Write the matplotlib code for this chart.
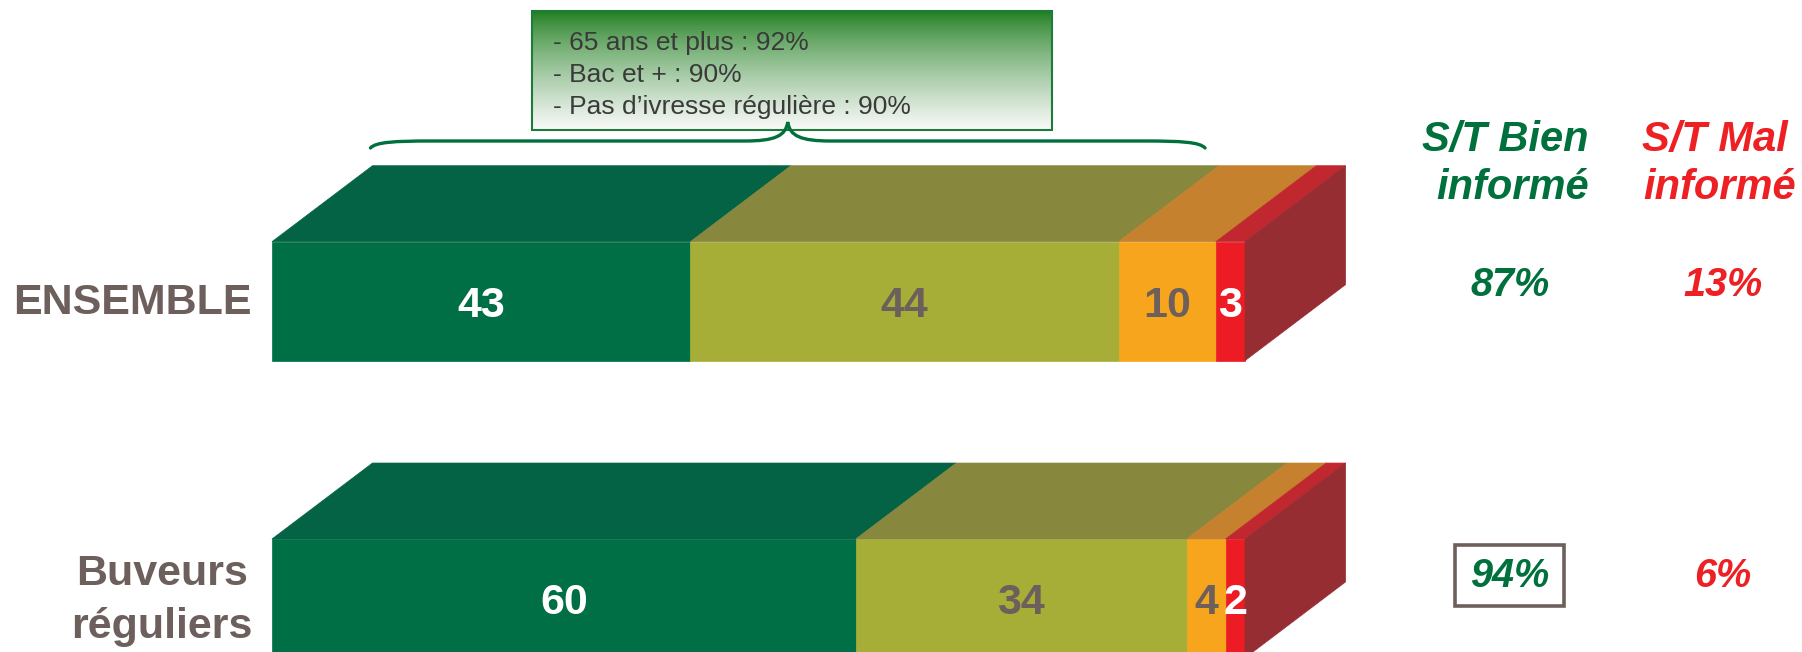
import numpy as np
import matplotlib
matplotlib.use("Agg")
import matplotlib.pyplot as plt
from matplotlib.patches import Polygon, Rectangle, PathPatch
from matplotlib.path import Path

plt.rcParams['font.family'] = ['Liberation Sans', 'DejaVu Sans']

# data
rows = ['ENSEMBLE', 'Buveurs\nréguliers']
tres_bien = [43, 60]
plutot_bien = [44, 34]
plutot_mal = [10, 4]
tres_mal = [3, 2]
st_bien = ['87%', '94%']
st_mal = ['13%', '6%']
callout = ['- 65 ans et plus : 92%', '- Bac et + : 90%',
           '- Pas d\u2019ivresse régulière : 90%']

series = [tres_bien, plutot_bien, plutot_mal, tres_mal]
front = ['#006f45', '#a7ae38', '#f7a51c', '#ed1c24']
top = ['#046344', '#87883e', '#c5812e', '#c1272f']
side = '#962d33'
num_col = ['white', '#6d5f5b', '#6d5f5b', 'white']
grey = '#6d5f5b'
green = '#00703c'
red = '#ed2024'

W, H = 1802, 652
fig = plt.figure(figsize=(W / 100, H / 100), dpi=100)

# bars, x in percent
ax = fig.add_axes([0, 0, 1, 1])
ax.set_xlim(-27.95, 157.24)
ax.set_ylim(1.180, -1.013)
ax.axis('off')

bar_h = 0.40
dx, dy = 10.33, 0.2556
ypos = np.arange(len(rows))
left = np.zeros(len(rows))
for vals, fc, tc, nc in zip(series, front, top, num_col):
    vals = np.array(vals, float)
    ax.barh(ypos, vals, left=left, height=bar_h, color=fc, edgecolor=fc, linewidth=0.5)
    for i in range(len(rows)):
        x0, x1 = left[i], left[i] + vals[i]
        yt = ypos[i] - bar_h / 2
        ax.add_patch(Polygon([(x0, yt), (x1, yt), (x1 + dx, yt - dy), (x0 + dx, yt - dy)],
                             closed=True, fc=tc, ec=tc, lw=0.5))
        ax.text((x0 + x1) / 2, ypos[i] + 0.052, str(int(vals[i])), color=nc,
                fontsize=31, fontweight='bold', ha='center', va='baseline')
    left += vals

for i in range(len(rows)):
    x1 = left[i]
    yt = ypos[i] - bar_h / 2
    yb = ypos[i] + bar_h / 2
    ax.add_patch(Polygon([(x1, yt), (x1 + dx, yt - dy), (x1 + dx, yb - dy), (x1, yb)],
                         closed=True, fc=side, ec=side, lw=0.5))

# overlay in pixels
ov = fig.add_axes([0, 0, 1, 1], zorder=5)
ov.axis('off')

# callout box with gradient
g = np.linspace(0, 1, 200)[:, None, None] ** 0.75
c0 = np.array([0x1a, 0x7c, 0x1a]) / 255
c1 = np.array([0xfa, 0xfa, 0xfa]) / 255
img = c0 + (c1 - c0) * g
img = np.repeat(img, 2, axis=1)
ov.imshow(img, extent=(532, 1052, 130, 11), aspect='auto', zorder=1)
ov.add_patch(Rectangle((532, 11), 520, 119, fill=False, ec='#1e7b3c', lw=1.5, zorder=2))
for k, line in enumerate(callout):
    ov.text(553, 50 + 32 * k, line, fontsize=19, color='#3a3a3a', ha='left',
            va='baseline', zorder=3)

# brace over the "bien" part
bien = tres_bien[0] + plutot_bien[0]
xl = ax.transData.transform((dx, 0))[0] - 2
xr = ax.transData.transform((bien + dx, 0))[0] - 14
xm = (xl + xr) / 2
verts = [(xl, 148), (xl + 5, 142), (xl + 25, 141), (xl + 60, 141),
         (xm - 43, 141),
         (xm - 13, 141), (xm - 2, 136), (xm, 122),
         (xm + 2, 136), (xm + 13, 141), (xm + 43, 141),
         (xr - 60, 141),
         (xr - 25, 141), (xr - 5, 142), (xr, 148)]
codes = [Path.MOVETO, Path.CURVE4, Path.CURVE4, Path.CURVE4,
         Path.LINETO,
         Path.CURVE4, Path.CURVE4, Path.CURVE4,
         Path.CURVE4, Path.CURVE4, Path.CURVE4,
         Path.LINETO,
         Path.CURVE4, Path.CURVE4, Path.CURVE4]
ov.add_patch(PathPatch(Path(verts, codes), fill=False, ec=green, lw=2.4,
                       capstyle='round', zorder=3))

# row labels
ov.text(252, 314, 'ENSEMBLE', fontsize=31, fontweight='bold', color=grey,
        ha='right', va='baseline')
for k, part in enumerate(rows[1].split('\n')):
    ov.text(162, 585 + 53 * k, part, fontsize=31, fontweight='bold', color=grey,
            ha='center', va='baseline')

# column headers
hd = dict(fontsize=30, fontweight='bold', fontstyle='italic', va='baseline')
ov.text(1589, 151, 'S/T Bien', color=green, ha='right', **hd)
ov.text(1589, 199, 'informé', color=green, ha='right', **hd)
ov.text(1642, 151, 'S/T Mal', color=red, ha='left', **hd)
ov.text(1643, 199, 'informé', color=red, ha='left', **hd)

# totals
pc = dict(fontsize=28.5, fontweight='bold', fontstyle='italic', va='baseline', ha='center')
for i, base in enumerate([296, 587]):
    ov.text(1510, base, st_bien[i], color=green, **pc)
    ov.text(1723, base, st_mal[i], color=red, **pc)
ov.add_patch(Rectangle((1455, 545), 109, 61, fill=False, ec=grey, lw=2.6))

ov.set_xlim(0, W)
ov.set_ylim(H, 0)

fig.savefig('out.png', dpi=100)
